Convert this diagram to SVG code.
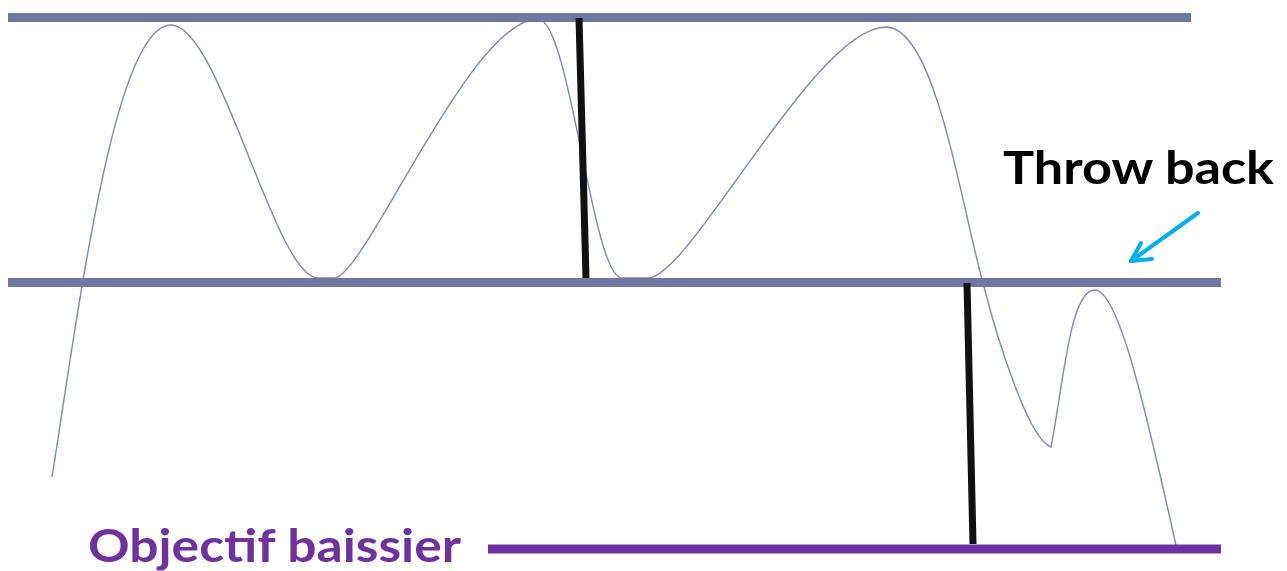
<svg xmlns="http://www.w3.org/2000/svg" width="1287" height="571" viewBox="0 0 1287 571">
<style>
.level{stroke:#6F78A0;stroke-width:9;fill:none}
.price{stroke:#7F88B4;stroke-width:1.4;fill:none}
.measure{stroke:#111111;stroke-width:7;fill:none}
.lbl{font-family:Lato,"Open Sans","Liberation Sans",sans-serif;font-weight:bold;font-size:46px}
</style>
<rect x="0" y="0" width="1287" height="571" fill="#ffffff"/>
<g id="price-curve">
<path class="price" d="M52,477 C80,300 115,25 171,25 C220,25 275,278 318,278 C322,278 330,278 334,278 C365,278 470,19 538,19 C570,19 592,278 622,278 C630,278 640,278 648,278 C690,278 815,27 886,27 C935,27 960,200 983,283 C1000,350 1030,440 1051,447 C1064,380 1070,290 1095,290 C1120,290 1150,430 1176,545"/>
</g>
<g id="resistance"><line class="level" x1="8" y1="17.5" x2="1191" y2="17.5"/></g>
<g id="support"><line class="level" x1="8" y1="282.5" x2="1221" y2="282.5"/></g>
<g id="target"><line x1="488" y1="549" x2="1221" y2="549" stroke="#7030A0" stroke-width="9"/></g>
<g id="connectors">
<line class="measure" x1="579" y1="18" x2="586" y2="278"/>
<line class="measure" x1="967" y1="283" x2="973" y2="544"/>
<g stroke="#00B0F0" stroke-width="4" stroke-linecap="round" stroke-linejoin="round" fill="none">
<line x1="1198" y1="213" x2="1131" y2="261"/>
<polyline points="1141,243 1131,261 1152,259"/>
</g>
</g>
<g id="label-throwback"><text class="lbl" x="1003" y="184" fill="#000000" textLength="271" lengthAdjust="spacingAndGlyphs">Throw back</text></g>
<g id="label-objectif"><text class="lbl" x="88" y="562" fill="#7030A0" textLength="373" lengthAdjust="spacingAndGlyphs">Objectif baissier</text></g>
</svg>
